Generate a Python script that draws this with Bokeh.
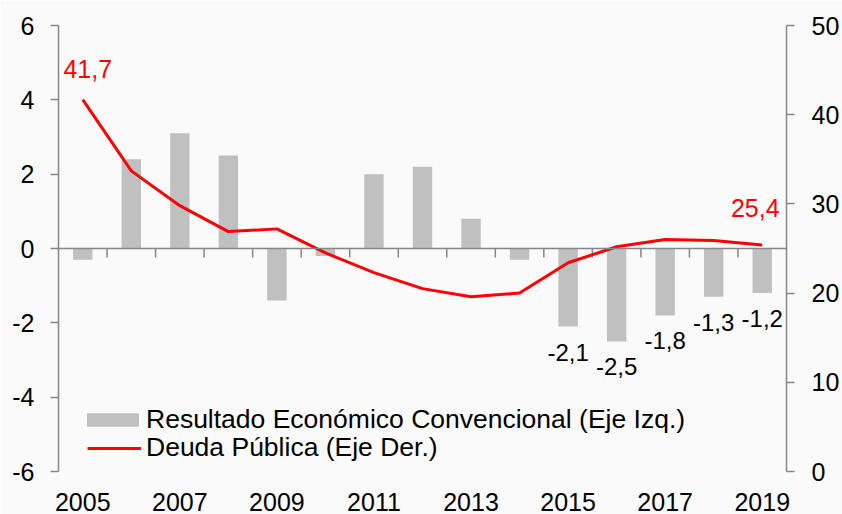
import math
from bokeh.plotting import figure
from bokeh.models import (Range1d, LinearAxis, FixedTicker, Span, ColumnDataSource, Legend,
                          LegendItem, PrintfTickFormatter)
from bokeh.core.properties import value
from bokeh.embed import file_html
from bokeh.resources import INLINE

# ---- data ----
years = [2005, 2006, 2007, 2008, 2009, 2010, 2011, 2012, 2013, 2014, 2015, 2016, 2017, 2018, 2019]
resultado = [-0.3, 2.4, 3.1, 2.5, -1.4, -0.2, 2.0, 2.2, 0.8, -0.3, -2.1, -2.5, -1.8, -1.3, -1.2]
deuda = [41.7, 33.7, 29.8, 26.9, 27.2, 24.5, 22.3, 20.5, 19.6, 20.0, 23.4, 25.2, 26.0, 25.9, 25.4]
year_ticks = [2005, 2007, 2009, 2011, 2013, 2015, 2017, 2019]
left_ticks = [-6, -4, -2, 0, 2, 4, 6]
right_ticks = [0, 10, 20, 30, 40, 50]
bar_label_years = [2015, 2016, 2017, 2018, 2019]
debt_label_years = [2005, 2019]
legend_labels = ["Resultado Económico Convencional (Eje Izq.)", "Deuda Pública (Eje Der.)"]

FONT = "Liberation Sans"
AXIS_GRAY = "#868686"
BG = "#fafafa"

def fmt(v):
    return f"{v:.1f}".replace(".", ",")

p = figure(width=842, height=514, output_backend="svg", toolbar_location=None,
           x_range=Range1d(years[0] - 0.5, years[-1] + 0.5), y_range=Range1d(-6, 6),
           min_border_left=58, min_border_right=53, min_border_top=25, min_border_bottom=43,
           background_fill_color=BG, border_fill_color=BG, x_axis_type=None, y_axis_type=None)
p.outline_line_color = None
p.xgrid.visible = False
p.ygrid.visible = False
p.extra_y_ranges = {"deuda": Range1d(0, 50)}

# bottom axis: year labels only
bottom = LinearAxis(ticker=FixedTicker(ticks=year_ticks))
bottom.axis_line_color = None
bottom.major_tick_line_color = None
bottom.minor_tick_line_color = None
bottom.major_label_standoff = 15
bottom.major_label_text_font = FONT
bottom.major_label_text_font_size = "25px"
bottom.major_label_text_color = "black"
p.add_layout(bottom, "below")

left = LinearAxis(ticker=FixedTicker(ticks=left_ticks), formatter=PrintfTickFormatter(format="%d"))
right = LinearAxis(ticker=FixedTicker(ticks=right_ticks), y_range_name="deuda",
                   formatter=PrintfTickFormatter(format="%d"))
for ax in (left, right):
    ax.axis_line_color = AXIS_GRAY
    ax.axis_line_width = 1.5
    ax.major_tick_line_color = AXIS_GRAY
    ax.major_tick_line_width = 1.5
    ax.major_tick_out = 8
    ax.major_tick_in = 0
    ax.minor_tick_line_color = None
    ax.major_label_text_font = FONT
    ax.major_label_text_font_size = "25px"
    ax.major_label_text_color = "black"
left.major_label_standoff = 16
right.major_label_standoff = 17
p.add_layout(left, "left")
p.add_layout(right, "right")

src = ColumnDataSource(dict(year=years, resultado=resultado, deuda=deuda))
bars = p.vbar(x="year", top="resultado", bottom=0, width=0.4, source=src,
              fill_color="#c0c0c0", line_color=None)

# category axis at zero
p.add_layout(Span(location=0, dimension="width", line_color=AXIS_GRAY, line_width=1.5))
bounds = [y + 0.5 for y in years[:-1]]
p.ray(x=bounds, y=[0] * len(bounds), length=9, length_units="screen", angle=-math.pi / 2,
      line_color=AXIS_GRAY, line_width=1.5)

line = p.line(x="year", y="deuda", source=src, y_range_name="deuda",
              line_color="#ff0000", line_width=3)

# bar labels
bl = ColumnDataSource(dict(
    x=bar_label_years,
    y=[resultado[years.index(y)] for y in bar_label_years],
    t=[fmt(resultado[years.index(y)]) for y in bar_label_years]))
p.text(x="x", y="y", text="t", source=bl, text_align="center", text_baseline="top",
       y_offset=17, text_font=value(FONT), text_font_size="24px", text_color="black")

# debt labels
dl = ColumnDataSource(dict(
    x=debt_label_years,
    y=[deuda[years.index(y)] for y in debt_label_years],
    t=[fmt(deuda[years.index(y)]) for y in debt_label_years],
    xo=[5, -7], yo=[-22, -28]))
p.text(x="x", y="y", text="t", source=dl, y_range_name="deuda", text_align="center",
       text_baseline="bottom", x_offset="xo", y_offset="yo",
       text_font=value(FONT), text_font_size="25px", text_color="#ff0000")

def make_legend(item, loc, gw, gh, standoff):
    lg = Legend(items=[item], location=loc)
    lg.background_fill_alpha = 0
    lg.border_line_color = None
    lg.padding = 0
    lg.margin = 0
    lg.spacing = 0
    lg.glyph_width = gw
    lg.glyph_height = gh
    lg.label_height = 29
    lg.label_standoff = standoff
    lg.label_text_font = FONT
    lg.label_text_font_size = "26.5px"
    lg.label_text_color = "black"
    return lg

p.add_layout(make_legend(LegendItem(label=legend_labels[0], renderers=[bars]), (22, 36), 65, 17, 1))
p.add_layout(make_legend(LegendItem(label=legend_labels[1], renderers=[line]), (29, 8), 54, 14, 5))

open("out.html", "w").write(file_html(p, INLINE))
